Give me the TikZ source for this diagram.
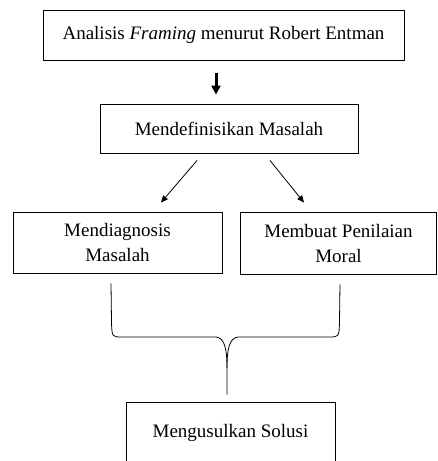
\documentclass[tikz,border=0pt]{standalone}
\usepackage{fontspec}
\setmainfont{Liberation Serif}
\usetikzlibrary{arrows.meta}
\begin{document}
\begin{tikzpicture}[x=1pt,y=-1pt,
		kotak/.style={draw,line width=0.9pt,align=center,inner sep=0pt,font=\fontsize{19}{25}\selectfont},
		panah/.style={-{Triangle[length=7pt,width=6pt]},line width=0.8pt},
		garis/.style={line width=0.8pt}]
		\useasboundingbox (0,0) rectangle (437,461);
		
		\node[kotak,minimum width=361pt,minimum height=50pt] (entman) at (223.5,35) {Analisis \textit{Framing} menurut Robert Entman};
		\node[kotak,minimum width=258pt,minimum height=49pt] (defn) at (229,128.5) {Mendefinisikan Masalah};
		\node[kotak,minimum width=209pt,minimum height=61pt] (diag) at (117.5,242.5) {Mendiagnosis\\Masalah};
		\node[kotak,minimum width=196pt,minimum height=62pt] (moral) at (338.5,243) {Membuat Penilaian\\Moral};
		\node[kotak,minimum width=209pt,minimum height=62pt] (solusi) at (230.5,433) {Mengusulkan Solusi};
		
		\draw [line width=3pt,-{Triangle[length=9pt,width=9pt]}] ([xshift=-7.5pt,yshift=-13pt]entman.south) -- ([xshift=-13pt,yshift=9pt]defn.north);
		\draw [panah] ([xshift=-32pt,yshift=-7pt]defn.south) -- ([xshift=43.5pt,yshift=9pt]diag.north);
		\draw [panah] ([xshift=41pt,yshift=-7pt]defn.south) -- ([xshift=-34.5pt,yshift=9pt]moral.north);
		
		% kurung kurawal
		\coordinate (ujung) at ([xshift=-3.5pt,yshift=7pt]solusi.north);
		\draw [garis] ([xshift=-6.5pt,yshift=-10pt]diag.south) -- (111.5,322) .. controls (112,337) .. (122,337) -- (216,337)
			.. controls (225,338) and (227,350) .. (227,368) -- (ujung);
		\draw [garis] ([xshift=1.5pt,yshift=-10pt]moral.south) -- (339.5,322) .. controls (339,337) .. (329,337) -- (238,337)
			.. controls (229,338) and (227,350) .. (227,368);
\end{tikzpicture}
\end{document}
